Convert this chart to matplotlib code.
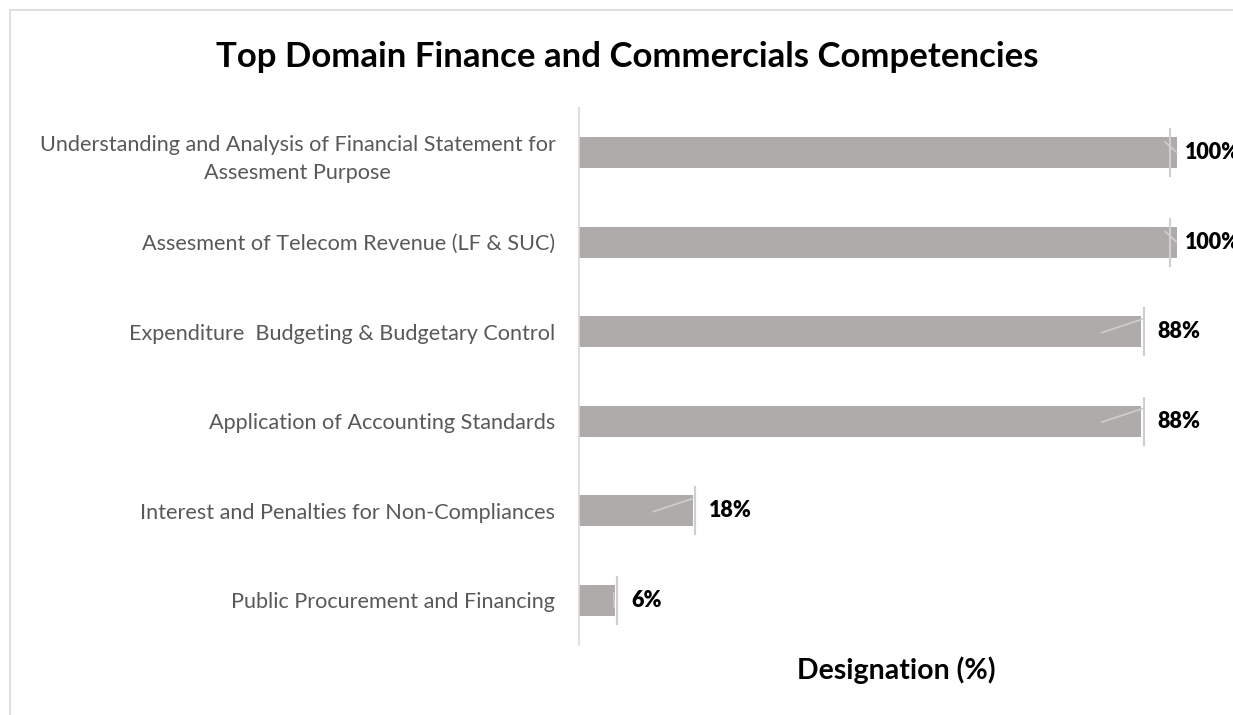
#!/usr/bin/env python3
# -*- coding: utf-8 -*-
"""
Top domain finance & commercials competencies - horizontal bar chart.
"""

import matplotlib
matplotlib.use("Agg")
import matplotlib.pyplot as plt
from matplotlib.patches import Rectangle

# data (top to bottom as shown)
competencies = [
    "Understanding and Analysis of Financial Statement for\nAssesment Purpose",
    "Assesment of Telecom Revenue (LF & SUC)",
    "Expenditure  Budgeting & Budgetary Control",
    "Application of Accounting Standards",
    "Interest and Penalties for Non-Compliances",
    "Public Procurement and Financing",
]
# bar lengths as drawn in the picture
bar_values = [100, 100, 94, 94, 19, 6]
# labels as printed on the chart
value_labels = ["100%", "100%", "88%", "88%", "18%", "6%"]

BAR_COLOR = "#AFABAB"
LINE_COLOR = "#D0CECE"
TEXT_GRAY = "#595959"

W, H = 1233, 715
fig = plt.figure(figsize=(W / 100, H / 100), dpi=100)
plt.rcParams["font.family"] = ["Lato", "DejaVu Sans"]

# outer chart border (runs off right/bottom edge)
fig.patches.append(Rectangle((10 / W, -0.1), 1.2, 1 - 10 / H + 0.1,
                             transform=fig.transFigure, fill=False,
                             edgecolor="#D9D9D9", linewidth=1.2))

ax_left, ax_right = 579, 1233
ax_top, ax_bot = 108, 645
ax = fig.add_axes([ax_left / W, 1 - ax_bot / H,
                   (ax_right - ax_left) / W, (ax_bot - ax_top) / H])

n = len(competencies)
y = list(range(n))
ax.barh(y, bar_values, height=0.35, color=BAR_COLOR, zorder=2)

# end markers + leader-line artefacts like in the source chart
for yi, v in zip(y, bar_values):
    xm = v - 1.1 if v >= 100 else v + 0.4
    ax.plot([xm, xm], [yi - 0.26, yi + 0.26],
            color=LINE_COLOR, linewidth=1.5, zorder=3)
    if v >= 100:
        ax.plot([v - 2.0, v], [yi - 0.12, yi], color=LINE_COLOR,
                linewidth=1.2, zorder=3)
    elif v > 10:
        ax.plot([v - 6.6, v + 0.2], [yi + 0.01, yi - 0.14], color=LINE_COLOR,
                linewidth=1.2, zorder=3)
    else:
        ax.plot([v - 0.2, v - 0.1], [yi - 0.08, yi + 0.08], color=LINE_COLOR,
                linewidth=1.0, zorder=3)

for yi, v, lab in zip(y, bar_values, value_labels):
    ax.text(v + 1.4 if v >= 100 else v + 2.7, yi, lab, ha="left", va="center",
            fontsize=15.5, fontweight="heavy", color="black", clip_on=False)

# 100 -> x=1177 px
ax.set_xlim(0, 100 * (ax_right - ax_left) / (1177 - ax_left))
ax.set_ylim(n - 0.5, -0.5)
ax.set_yticks(y)
ax.set_yticklabels(competencies, fontsize=15.6, color=TEXT_GRAY,
                   ha="right", multialignment="center", linespacing=1.5)
ax.tick_params(axis="y", length=0, pad=17)
ax.set_xticks([])
for s in ["top", "right", "bottom"]:
    ax.spines[s].set_visible(False)
ax.spines["left"].set_color("#D9D9D9")
ax.spines["left"].set_linewidth(1.2)

fig.text(627 / W, 1 - 57 / H, "Top Domain Finance and Commercials Competencies",
         ha="center", va="center", fontsize=25, fontweight="bold", color="black")
fig.text(896 / W, 1 - 670 / H, "Designation (%)", ha="center", va="center",
         fontsize=20.5, fontweight="bold", color="black")

fig.savefig("out.png", dpi=100)
